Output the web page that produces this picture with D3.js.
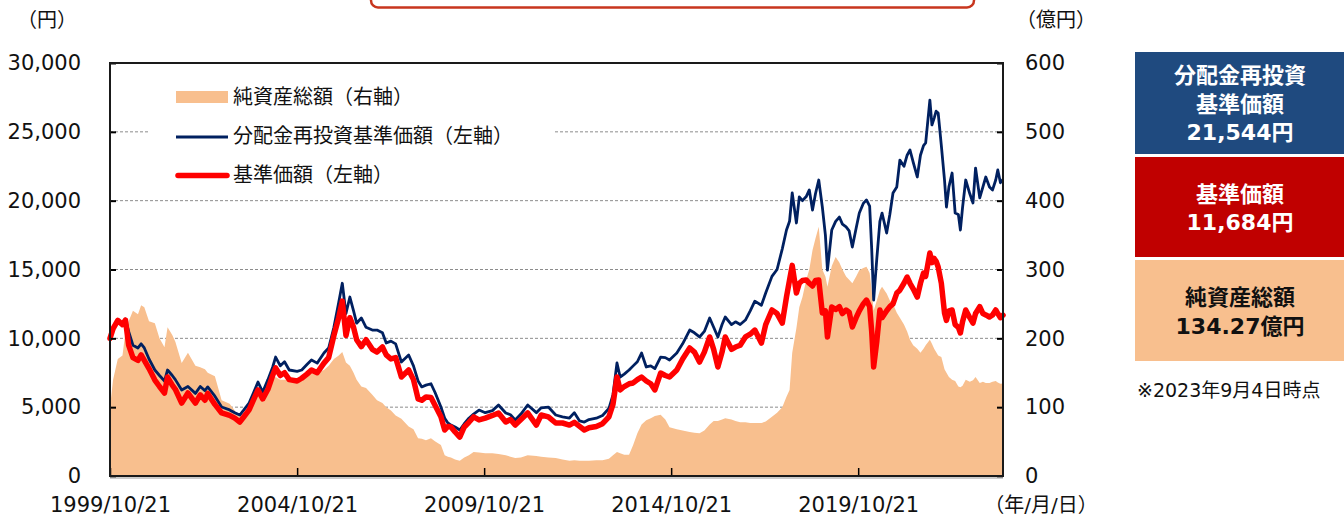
<!DOCTYPE html>
<html>
<head>
<meta charset="utf-8">
<script src="https://cdn.jsdelivr.net/npm/d3@7"></script>
<style>
  html, body { margin: 0; padding: 0; background: #fff; overflow: hidden; }
  svg { display: block; font-family: "DejaVu Sans", "Noto Sans CJK JP", sans-serif; }
</style>
</head>
<body>
<svg id="chart" width="1344" height="517"></svg>
<script>
// ---------- data ----------
const dates = [
"1999-10-21","1999-11-20","2000-01-05","2000-02-20","2000-03-20","2000-04-20","2000-06-01","2000-07-20","2000-08-20","2000-09-20",
"2000-11-05","2001-01-01","2001-02-15","2001-04-05","2001-05-05","2001-06-20","2001-07-20","2001-09-20","2001-11-20","2002-02-01",
"2002-03-20","2002-05-05","2002-06-01","2002-08-10","2002-10-15","2003-01-01","2003-02-20","2003-04-10","2003-05-20","2003-07-10",
"2003-08-20","2003-10-05","2003-11-20","2004-01-10","2004-02-25","2004-03-25","2004-05-10","2004-06-20","2004-08-05","2004-10-21",
"2004-12-05","2005-01-25","2005-03-10","2005-05-05","2005-07-10","2005-08-25","2005-10-15","2005-12-01","2006-01-05","2006-02-10",
"2006-03-20","2006-04-25","2006-05-25","2006-07-10","2006-08-25","2006-10-25","2006-12-10","2007-02-01","2007-03-10","2007-04-25",
"2007-06-10","2007-08-05","2007-10-15","2007-12-01","2008-01-15","2008-02-20","2008-04-01","2008-05-20","2008-07-01","2008-08-25",
"2008-10-01","2008-11-01","2008-12-01","2009-01-10","2009-02-25","2009-04-10","2009-05-25","2009-07-10","2009-09-01","2009-11-01",
"2010-01-10","2010-03-10","2010-05-20","2010-07-05","2010-08-20","2010-10-15","2010-12-20","2011-03-15","2011-05-01","2011-07-10",
"2011-09-20","2011-11-25","2012-02-01","2012-03-20","2012-05-10","2012-06-25","2012-08-10","2012-10-20","2012-12-20","2013-02-20",
"2013-04-01","2013-05-10","2013-06-10","2013-07-20","2013-09-05","2013-10-15","2013-11-25","2014-01-05","2014-02-20","2014-04-05",
"2014-05-15","2014-07-10","2014-08-25","2014-10-05","2014-12-15","2015-02-10","2015-04-20","2015-06-05","2015-07-25","2015-09-10",
"2015-11-01","2015-12-10","2016-01-20","2016-03-01","2016-04-01","2016-06-01","2016-07-10","2016-08-25","2016-10-15","2016-12-01",
"2017-01-15","2017-03-20","2017-05-01","2017-07-01","2017-08-20","2017-10-10","2017-11-20","2017-12-20","2018-01-15","2018-02-25",
"2018-03-25","2018-04-25","2018-06-01","2018-07-01","2018-08-01","2018-08-30","2018-10-01","2018-11-05","2018-12-05","2018-12-25",
"2019-02-05","2019-03-15","2019-04-20","2019-05-20","2019-06-25","2019-07-25","2019-08-25","2019-10-01","2019-11-01","2019-12-10",
"2020-01-10","2020-02-10","2020-03-01","2020-03-20","2020-04-20","2020-05-20","2020-06-10","2020-07-25","2020-08-25","2020-09-25",
"2020-11-01","2020-12-01","2021-01-10","2021-02-10","2021-03-10","2021-04-10","2021-05-20","2021-06-20","2021-07-20","2021-08-10",
"2021-09-20","2021-10-10","2021-11-01","2021-11-20","2021-12-10","2022-01-10","2022-02-10","2022-03-01","2022-03-25","2022-04-25",
"2022-05-25","2022-06-25","2022-07-15","2022-08-05","2022-09-05","2022-10-15","2022-11-15","2022-12-10","2023-01-20","2023-02-20",
"2023-03-20","2023-04-25","2023-05-25","2023-06-25","2023-07-15","2023-08-10","2023-09-04"
];

// 基準価額 (円, left axis)
const navValues = [
10000,10700,11300,11000,11330,9500,8600,8400,8800,8400,
7800,6970,6500,6030,7190,6600,6300,5300,6030,5300,
5900,5500,6000,5200,4580,4400,4200,3920,4300,4800,
5500,6250,5600,6300,7300,7850,7300,7500,7000,6900,
7100,7400,7700,7500,8200,8600,10200,11500,12700,10200,
11500,10800,9900,9400,9900,9200,9000,9370,8800,8500,
8600,7190,7700,7000,5600,5500,5740,5700,5100,4300,
3340,3600,3560,3200,2830,3560,3900,4290,4070,4200,
4400,4580,3920,4100,3700,4100,4580,3700,4430,4300,
3850,3850,3700,3900,3600,3340,3500,3600,3800,4300,
5200,7190,6250,6500,6700,6760,7000,7190,6900,6700,
6250,7480,7300,7190,7700,8500,9300,9000,8280,9000,
10100,9200,7920,9000,10100,9200,9370,9500,10100,10300,
10600,9660,11000,12060,11800,11110,13000,14240,15300,13290,
14000,14200,14240,14000,13800,14200,14240,11840,12000,10100,
12280,12100,12300,11800,12060,11900,10820,11500,12000,12500,
12780,12300,10500,7920,9800,12060,11500,12000,12300,12500,
13290,13500,14000,14450,14000,13600,13000,14000,14740,14500,
16200,15500,15800,15600,15180,14000,11840,11300,12000,12060,
11000,10800,10390,11200,12060,11500,11110,11800,12300,11800,
11700,11550,11700,12060,11800,11500,11684
];

// 分配金再投資基準価額 (円, left axis)
const reinvValues = [
10000,10700,11300,11100,11400,10500,9500,9300,9600,9300,
8500,7700,7300,6900,7700,7300,7000,6250,6500,6000,
6500,6200,6470,5800,5010,4800,4600,4430,4800,5300,
6000,6830,6100,7000,7900,8640,8000,8300,7700,7600,
7700,8100,8430,8200,8930,9300,10800,12600,14000,11800,
13000,12000,11100,11480,10800,10600,10600,10400,9660,9800,
9600,8280,8790,8000,6900,6470,6600,6700,6030,5010,
4200,3850,3700,3560,3340,3800,4200,4500,4790,4600,
4750,5160,4580,4450,4070,4500,5160,4600,4950,5010,
4430,4300,4210,4600,4000,3920,4100,4200,4400,4900,
5900,8210,7190,7400,7700,8000,8300,8930,7920,8000,
7800,8640,8600,8430,8930,9600,10600,10400,10100,10500,
11480,10800,10100,11000,11550,11000,11200,11000,11330,12000,
12700,12400,13290,14500,15000,16500,17870,18500,20560,18380,
20270,20000,20300,20780,19320,20500,21500,19540,17500,14960,
17870,18500,18810,18300,18090,17800,16630,18000,19100,19800,
20050,19600,16500,12780,15800,18500,19100,17650,19000,20560,
21000,22950,22500,23300,23680,22800,21720,23300,24000,24190,
27310,25500,26000,26500,26370,24000,21500,19540,21000,22010,
19100,19000,17870,19500,21500,20500,19830,22370,20200,21000,
21720,21000,20780,21500,22230,21300,21544
];

// 純資産総額 (億円, right axis)
const assetValues = [
100,140,170,175,210,225,240,235,248,245,
225,222,200,187,216,205,195,164,179,160,
158,155,150,145,110,105,95,86,90,100,
110,120,120,135,140,144,140,140,139,141,
145,150,154,150,154,160,170,175,180,165,
160,150,140,130,128,118,110,106,100,95,
88,83,72,68,55,54,52,55,50,45,
30,28,27,24,22,27,30,35,34,33,
33,32,30,28,26,27,30,29,28,27,
26,24,22,23,22,22,22,23,23,25,
30,35,33,31,31,45,62,75,81,84,
87,89,82,71,68,66,64,63,62,66,
75,80,80,82,84,82,80,78,78,77,
77,77,79,86,92,100,115,125,179,215,
245,260,285,300,328,345,362,300,290,275,
305,318,310,300,290,285,280,290,299,302,
304,295,270,240,255,270,275,265,255,250,
237,230,220,210,198,190,185,179,185,190,
198,192,185,180,175,173,155,150,144,140,
138,130,129,131,140,137,139,144,135,137,
135,135,137,138,136,134,134.27
];

const xTickDates = ["1999-10-21","2004-10-21","2009-10-21","2014-10-21","2019-10-21"];
const leftTicks = [0,5000,10000,15000,20000,25000,30000];
const rightTicks = [0,100,200,300,400,500,600];
const legendLabels = ["純資産総額（右軸）","分配金再投資基準価額（左軸）","基準価額（左軸）"];
const boxLines = [
  ["分配金再投資","基準価額","21,544円"],
  ["基準価額","11,684円"],
  ["純資産総額","134.27億円"]
];
const noteText = "※2023年9月4日時点";

// ---------- layout ----------
const L = 110, R = 1003, T = 63, B = 476;
const parse = d3.timeParse("%Y-%m-%d");
const fmt = d3.timeFormat("%Y/%m/%d");
const data = dates.map((d, i) => ({date: parse(d), nav: navValues[i], reinv: reinvValues[i], assets: assetValues[i]}));

const svg = d3.select("#chart");
const x = d3.scaleTime().domain([parse("1999-10-21"), parse("2023-09-04")]).range([L, R]);
const y = d3.scaleLinear().domain([0, 30000]).range([B, T]);
const y2 = d3.scaleLinear().domain([0, 600]).range([B, T]);

// top cut-off title box
svg.append("rect").attr("x", 371).attr("y", -40).attr("width", 603).attr("height", 47.5)
  .attr("rx", 7).attr("fill", "none").attr("stroke", "#C8361E").attr("stroke-width", 2.5);

// gridlines
svg.append("g").selectAll("line").data(leftTicks.filter(v => v > 0 && v < 30000)).join("line")
  .attr("x1", L).attr("x2", R).attr("y1", d => y(d)).attr("y2", d => y(d))
  .attr("stroke", "#8c8c8c").attr("stroke-width", 1).attr("stroke-dasharray", "3,2");

// area
const area = d3.area().x(d => x(d.date)).y0(y2(0)).y1(d => y2(d.assets));
svg.append("path").datum(data).attr("d", area).attr("fill", "#F8BF8E");

// lines
const lineReinv = d3.line().x(d => x(d.date)).y(d => y(d.reinv));
const lineNav = d3.line().x(d => x(d.date)).y(d => y(d.nav));
svg.append("path").datum(data).attr("d", lineReinv).attr("fill", "none")
  .attr("stroke", "#002060").attr("stroke-width", 2.8).attr("stroke-linejoin", "round");
svg.append("path").datum(data).attr("d", lineNav).attr("fill", "none")
  .attr("stroke", "#FF0000").attr("stroke-width", 5.5).attr("stroke-linejoin", "round").attr("stroke-linecap", "round");

// axes
const axisFont = g => g.selectAll("text").attr("font-size", 21).attr("fill", "#111")
  .attr("font-family", "\"DejaVu Sans\", \"Noto Sans CJK JP\", sans-serif");

const gl = svg.append("g").attr("transform", `translate(${L},0)`)
  .call(d3.axisLeft(y).tickValues(leftTicks).tickFormat(d3.format(",")).tickSize(-6).tickPadding(29));
gl.select(".domain").remove(); gl.selectAll("line").attr("stroke", "#000").attr("stroke-width", 2); axisFont(gl);

const gr = svg.append("g").attr("transform", `translate(${R},0)`)
  .call(d3.axisRight(y2).tickValues(rightTicks).tickSize(-6).tickPadding(22));
gr.select(".domain").remove(); gr.selectAll("line").attr("stroke", "#000").attr("stroke-width", 2); axisFont(gr);

const gb = svg.append("g").attr("transform", `translate(0,${B})`)
  .call(d3.axisBottom(x).tickValues(xTickDates.map(parse)).tickFormat(fmt).tickSize(-8).tickPadding(21));
gb.select(".domain").remove(); gb.selectAll("line").attr("stroke", "#000").attr("stroke-width", 1.5); axisFont(gb);

// frame
svg.append("rect").attr("x", L).attr("y", T).attr("width", R - L).attr("height", B - T)
  .attr("fill", "none").attr("stroke", "#1a1a1a").attr("stroke-width", 2);
svg.append("line").attr("x1", L).attr("x2", R).attr("y1", B + 2).attr("y2", B + 2)
  .attr("stroke", "#9a9a9a").attr("stroke-width", 1.2);

// axis unit titles
const t = (txt, xx, yy, anchor, size) => svg.append("text").text(txt).attr("x", xx).attr("y", yy)
  .attr("text-anchor", anchor).attr("dominant-baseline", "central").attr("font-size", size).attr("fill", "#111");
t("（円）", 47, 20, "middle", 20);
t("（億円）", 1056, 20, "middle", 20);
t("（年/月/日）", 1041, 505, "middle", 20);

// legend
const lg = svg.append("g");
lg.append("rect").attr("x", 150).attr("y", 78).attr("width", 405).attr("height", 112).attr("fill", "#fff");
lg.append("rect").attr("x", 176).attr("y", 91).attr("width", 52).attr("height", 12).attr("fill", "#F8BF8E");
lg.append("line").attr("x1", 176).attr("x2", 228).attr("y1", 137).attr("y2", 137)
  .attr("stroke", "#002060").attr("stroke-width", 2.8);
lg.append("line").attr("x1", 178).attr("x2", 227).attr("y1", 175.5).attr("y2", 175.5)
  .attr("stroke", "#FF0000").attr("stroke-width", 5.5).attr("stroke-linecap", "round");
const legY = [97, 136, 175];
legendLabels.forEach((s, i) => lg.append("text").text(s).attr("x", 233).attr("y", legY[i])
  .attr("dominant-baseline", "central").attr("font-size", 20).attr("fill", "#111"));

// info boxes
const boxes = [
  {y: 52, h: 102, fill: "#1F4A7F", color: "#fff", lines: boxLines[0], ys: [75, 104, 132]},
  {y: 157, h: 100, fill: "#C00000", color: "#fff", lines: boxLines[1], ys: [194, 222]},
  {y: 260, h: 101, fill: "#F8BF8E", color: "#111", lines: boxLines[2], ys: [297, 326]}
];
boxes.forEach(b => {
  svg.append("rect").attr("x", 1135).attr("y", b.y).attr("width", 209).attr("height", b.h).attr("fill", b.fill);
  b.lines.forEach((s, i) => svg.append("text").text(s).attr("x", 1240).attr("y", b.ys[i])
    .attr("text-anchor", "middle").attr("dominant-baseline", "central")
    .attr("font-size", 22).attr("font-weight", "bold").attr("fill", b.color));
});
svg.append("text").text(noteText).attr("x", 1137).attr("y", 390).attr("dominant-baseline", "central")
  .attr("font-size", 19).attr("fill", "#111");
</script>
</body>
</html>
